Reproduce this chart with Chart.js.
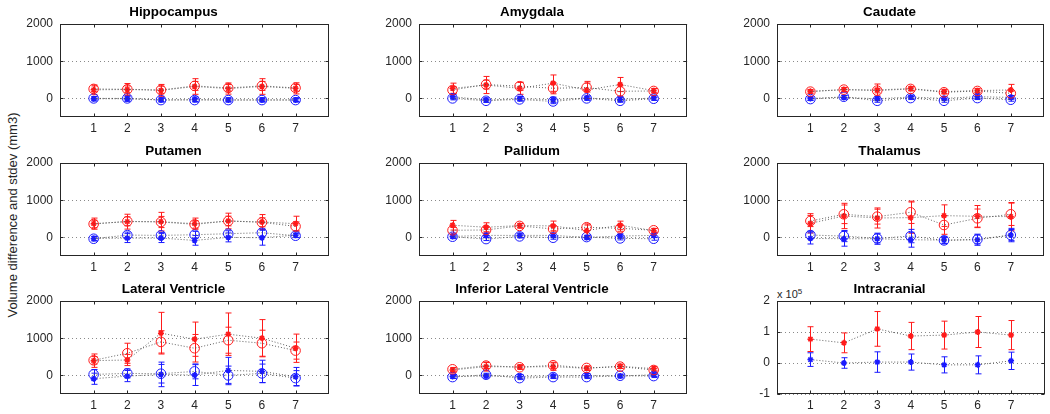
<!DOCTYPE html>
<html><head><meta charset="utf-8">
<script src="https://cdn.jsdelivr.net/npm/chart.js@4.4.0/dist/chart.umd.min.js"></script>
<style>
body{margin:0;background:#fff;width:1050px;height:414px;position:relative;overflow:hidden;font-family:"Liberation Sans",Arial,sans-serif}
canvas{position:absolute}
#ylab{position:absolute;left:12px;top:215px;transform:translate(-50%,-50%) rotate(-90deg);white-space:nowrap;font-size:13px;color:#262626}
#exp{position:absolute;left:777px;top:286px;font-size:11px;line-height:11px;color:#262626}
#exp sup{font-size:8px;vertical-align:4px}
</style></head><body>
<div id="ylab">Volume difference and stdev (mm3)</div>
<div id="exp">x 10<sup>5</sup></div>
<script>
const timepoints = [1, 2, 3, 4, 5, 6, 7];
const volumeTicks = [0, 1000, 2000];
const icvTicks = [-100000, 0, 100000, 200000];

const hippoRedCircle = [255, 245, 227, 336, 282, 336, 282];
const hippoRedCircleSd = [80, 90, 100, 120, 90, 120, 90];
const hippoRedStar = [230, 240, 215, 320, 265, 320, 270];
const hippoRedStarSd = [130, 160, 160, 210, 150, 210, 150];
const hippoBlueCircle = [0, 0, -45, -45, -45, -45, -45];
const hippoBlueCircleSd = [40, 40, 40, 40, 40, 40, 40];
const hippoBlueStar = [-10, -10, -40, -30, -40, -40, -40];
const hippoBlueStarSd = [60, 70, 60, 70, 60, 60, 60];

const amygRedCircle = [227, 373, 327, 273, 291, 191, 200];
const amygRedCircleSd = [90, 120, 110, 150, 120, 150, 60];
const amygRedStar = [270, 360, 270, 410, 227, 373, 209];
const amygRedStarSd = [140, 230, 160, 220, 230, 190, 60];
const amygBlueCircle = [0, -64, -27, -82, 0, -64, -9];
const amygBlueCircleSd = [40, 40, 40, 60, 40, 40, 40];
const amygBlueStar = [45, -45, -9, -36, 9, -27, 9];
const amygBlueStarSd = [60, 60, 60, 70, 60, 60, 60];

const caudRedCircle = [182, 236, 209, 255, 164, 200, 136];
const caudRedCircleSd = [40, 50, 60, 50, 40, 50, 60];
const caudRedStar = [190, 236, 227, 264, 182, 209, 227];
const caudRedStarSd = [50, 60, 160, 60, 60, 60, 150];
const caudBlueCircle = [-18, 45, -64, 9, -64, 9, -36];
const caudBlueCircleSd = [40, 40, 40, 40, 40, 40, 40];
const caudBlueStar = [0, 27, -9, 36, 0, 45, 27];
const caudBlueStarSd = [50, 50, 50, 50, 50, 50, 50];

const putRedCircle = [360, 432, 414, 351, 441, 405, 297];
const putRedCircleSd = [100, 120, 150, 100, 130, 120, 120];
const putRedStar = [369, 423, 423, 369, 441, 414, 369];
const putRedStarSd = [150, 200, 250, 150, 210, 200, 200];
const putBlueCircle = [-36, 63, 54, 72, 99, 126, 45];
const putBlueCircleSd = [60, 80, 80, 90, 80, 100, 50];
const putBlueStar = [-27, -18, -18, -81, 0, -9, 60];
const putBlueStarSd = [60, 120, 120, 130, 120, 200, 60];

const pallRedCircle = [191, 200, 309, 227, 273, 245, 191];
const pallRedCircleSd = [80, 80, 60, 80, 90, 80, 50];
const pallRedStar = [327, 273, 318, 309, 182, 327, 182];
const pallRedStarSd = [130, 120, 60, 130, 150, 110, 60];
const pallBlueCircle = [18, -45, 27, -9, 9, -27, -36];
const pallBlueCircleSd = [40, 40, 40, 40, 40, 40, 40];
const pallBlueStar = [27, 54, 54, 54, 0, 36, 54];
const pallBlueStarSd = [60, 60, 60, 60, 60, 60, 60];

const thalRedCircle = [441, 621, 558, 675, 333, 513, 621];
const thalRedCircleSd = [150, 250, 200, 300, 250, 250, 300];
const thalRedStar = [378, 576, 522, 531, 585, 567, 558];
const thalRedStarSd = [260, 340, 270, 420, 290, 290, 380];
const thalBlueCircle = [63, 36, -27, 36, -81, -54, 63];
const thalBlueCircleSd = [100, 150, 120, 180, 80, 120, 150];
const thalBlueStar = [-27, -36, -36, -63, -72, -63, 63];
const thalBlueStarSd = [150, 200, 150, 200, 100, 150, 180];

const latRedCircle = [405, 595, 901, 730, 946, 865, 667];
const latRedCircleSd = [100, 270, 300, 370, 350, 350, 230];
const latRedStar = [396, 414, 1135, 973, 1108, 1000, 730];
const latRedStarSd = [180, 150, 560, 460, 570, 500, 380];
const latBlueCircle = [27, 54, 45, 108, 0, 54, -72];
const latBlueCircleSd = [130, 120, 250, 200, 250, 250, 200];
const latBlueStar = [-90, -18, 27, 9, 135, 108, -36];
const latBlueStarSd = [150, 150, 330, 280, 350, 300, 250];

const infRedCircle = [164, 264, 218, 273, 200, 236, 145];
const infRedCircleSd = [50, 80, 50, 80, 50, 50, 50];
const infRedStar = [145, 236, 227, 236, 191, 245, 182];
const infRedStarSd = [60, 120, 60, 100, 60, 60, 60];
const infBlueCircle = [-45, 18, -73, -45, -45, -9, -18];
const infBlueCircleSd = [40, 40, 40, 40, 40, 40, 40];
const infBlueStar = [-27, -18, -27, -18, 0, -18, 18];
const infBlueStarSd = [50, 50, 50, 50, 50, 50, 50];

const icvRedStar = [77000, 65000, 110000, 87000, 90000, 100000, 90000];
const icvRedStarSd = [40000, 32000, 56000, 44000, 45000, 50000, 47000];
const icvBlueStar = [11000, 0, 3000, 3000, -6000, -6000, 7000];
const icvBlueStarSd = [22000, 17000, 33000, 26000, 26000, 29000, 28000];

const RED = '#ff1a1a', BLUE = '#1a1aff', LINE = 'rgba(70,70,70,0.85)';
const FONT = '"Liberation Sans", Arial, sans-serif';
const INK = '#262626';

const colLeft = [60, 419, 777], colRight = [332, 690, 1047];
const rowTop = [24, 163, 301], rowBottom = [117, 256, 394];
const AXW = 45, TITLEH = 24, XAXH = 20, PADR = 3;

const matlabAxes = {
  id: 'matlabAxes',
  beforeDatasetsDraw(chart) {
    const {ctx, chartArea: a, scales: {x, y}} = chart;
    ctx.save();
    ctx.strokeStyle = '#8a8a8a'; ctx.lineWidth = 1; ctx.setLineDash([1, 3]);
    y.ticks.forEach(t => {
      const py = Math.round(y.getPixelForValue(t.value)) + 0.5;
      ctx.beginPath(); ctx.moveTo(a.left, py); ctx.lineTo(a.right, py); ctx.stroke();
    });
    ctx.setLineDash([]);
    chart.data.datasets.forEach((ds, i) => {
      if (!ds.sd) return;
      ctx.strokeStyle = ds.pointBorderColor; ctx.lineWidth = 1;
      ds.data.forEach((p, j) => {
        const px = Math.round(x.getPixelForValue(p.x)) + 0.5;
        const y1 = y.getPixelForValue(p.y - ds.sd[j]);
        const y2 = y.getPixelForValue(p.y + ds.sd[j]);
        ctx.beginPath();
        ctx.moveTo(px, y1); ctx.lineTo(px, y2);
        ctx.moveTo(px - 3, y1); ctx.lineTo(px + 3, y1);
        ctx.moveTo(px - 3, y2); ctx.lineTo(px + 3, y2);
        ctx.stroke();
      });
    });
    ctx.restore();
  },
  afterDraw(chart) {
    const {ctx, chartArea: a, scales: {x, y}} = chart;
    ctx.save();
    ctx.strokeStyle = INK; ctx.lineWidth = 1;
    const L = Math.round(a.left) + 0.5, R = Math.round(a.right) - 0.5;
    const T = Math.round(a.top) + 0.5, B = Math.round(a.bottom) - 0.5;
    ctx.strokeRect(L, T, R - L, B - T);
    ctx.beginPath();
    x.ticks.forEach(t => {
      const px = Math.round(x.getPixelForValue(t.value)) + 0.5;
      ctx.moveTo(px, B); ctx.lineTo(px, B - 3);
      ctx.moveTo(px, T); ctx.lineTo(px, T + 3);
    });
    y.ticks.forEach(t => {
      const py = Math.round(y.getPixelForValue(t.value)) + 0.5;
      ctx.moveTo(L, py); ctx.lineTo(L + 3, py);
      ctx.moveTo(R, py); ctx.lineTo(R - 3, py);
    });
    ctx.stroke();
    ctx.restore();
  }
};

function pts(vals) { return vals.map((v, i) => ({x: timepoints[i], y: v})); }
function series(vals, sd, color, style) {
  return {
    data: pts(vals), sd: sd, showLine: true,
    borderColor: LINE, borderWidth: 1, borderDash: [1, 2],
    pointStyle: style, pointRadius: style === 'circle' ? 4.8 : 3,
    pointBorderColor: color, pointBackgroundColor: 'rgba(0,0,0,0)',
    pointBorderWidth: style === 'circle' ? 1 : 1.5
  };
}

function panel(title, col, row, datasets, yMin, yMax, yTicks, fmt) {
  const c = document.createElement('canvas');
  const plotW = colRight[col] - colLeft[col], plotH = rowBottom[row] - rowTop[row];
  const w = plotW + AXW + PADR, h = plotH + TITLEH + XAXH;
  c.width = w; c.height = h;
  c.style.left = (colLeft[col] - AXW) + 'px';
  c.style.top = (rowTop[row] - TITLEH) + 'px';
  c.style.width = w + 'px'; c.style.height = h + 'px';
  document.body.appendChild(c);
  new Chart(c, {
    type: 'scatter',
    data: {datasets},
    plugins: [matlabAxes],
    options: {
      responsive: false, animation: false, devicePixelRatio: 1,
      layout: {padding: {left: 0, right: PADR, top: 0, bottom: 0}},
      plugins: {
        legend: {display: false}, tooltip: {enabled: false},
        title: {display: true, text: title, color: '#000',
          font: {family: FONT, size: 13.4, weight: 'bold', lineHeight: 1.2},
          padding: {top: 4.5, bottom: 3.42}}
      },
      scales: {
        x: {
          type: 'linear', min: 0, max: 8,
          afterBuildTicks: s => { s.ticks = timepoints.map(v => ({value: v})); },
          afterFit: s => { s.height = XAXH; },
          grid: {display: false, drawTicks: false}, border: {display: false},
          ticks: {padding: 4, color: INK, font: {family: FONT, size: 12}, maxRotation: 0, callback: v => String(v)}
        },
        y: {
          type: 'linear', min: yMin, max: yMax,
          afterBuildTicks: s => { s.ticks = yTicks.map(v => ({value: v})); },
          afterFit: s => { s.width = AXW; },
          grid: {display: false, drawTicks: false}, border: {display: false},
          ticks: {padding: 7, color: INK, font: {family: FONT, size: 12}, callback: fmt}
        }
      }
    }
  });
}

function four(rc, rcs, rs, rss, bc, bcs, bs, bss) {
  return [
    series(rc, rcs, RED, 'circle'), series(rs, rss, RED, 'star'),
    series(bc, bcs, BLUE, 'circle'), series(bs, bss, BLUE, 'star')
  ];
}
const vf = v => String(v);
const icvf = v => String(Math.round(v / 100000));

panel('Hippocampus', 0, 0, four(hippoRedCircle, hippoRedCircleSd, hippoRedStar, hippoRedStarSd, hippoBlueCircle, hippoBlueCircleSd, hippoBlueStar, hippoBlueStarSd), -500, 2000, volumeTicks, vf);
panel('Amygdala', 1, 0, four(amygRedCircle, amygRedCircleSd, amygRedStar, amygRedStarSd, amygBlueCircle, amygBlueCircleSd, amygBlueStar, amygBlueStarSd), -500, 2000, volumeTicks, vf);
panel('Caudate', 2, 0, four(caudRedCircle, caudRedCircleSd, caudRedStar, caudRedStarSd, caudBlueCircle, caudBlueCircleSd, caudBlueStar, caudBlueStarSd), -500, 2000, volumeTicks, vf);
panel('Putamen', 0, 1, four(putRedCircle, putRedCircleSd, putRedStar, putRedStarSd, putBlueCircle, putBlueCircleSd, putBlueStar, putBlueStarSd), -500, 2000, volumeTicks, vf);
panel('Pallidum', 1, 1, four(pallRedCircle, pallRedCircleSd, pallRedStar, pallRedStarSd, pallBlueCircle, pallBlueCircleSd, pallBlueStar, pallBlueStarSd), -500, 2000, volumeTicks, vf);
panel('Thalamus', 2, 1, four(thalRedCircle, thalRedCircleSd, thalRedStar, thalRedStarSd, thalBlueCircle, thalBlueCircleSd, thalBlueStar, thalBlueStarSd), -500, 2000, volumeTicks, vf);
panel('Lateral Ventricle', 0, 2, four(latRedCircle, latRedCircleSd, latRedStar, latRedStarSd, latBlueCircle, latBlueCircleSd, latBlueStar, latBlueStarSd), -500, 2000, volumeTicks, vf);
panel('Inferior Lateral Ventricle', 1, 2, four(infRedCircle, infRedCircleSd, infRedStar, infRedStarSd, infBlueCircle, infBlueCircleSd, infBlueStar, infBlueStarSd), -500, 2000, volumeTicks, vf);
panel('Intracranial', 2, 2, [series(icvRedStar, icvRedStarSd, RED, 'star'), series(icvBlueStar, icvBlueStarSd, BLUE, 'star')], -100000, 200000, icvTicks, icvf);
</script>
</body></html>
